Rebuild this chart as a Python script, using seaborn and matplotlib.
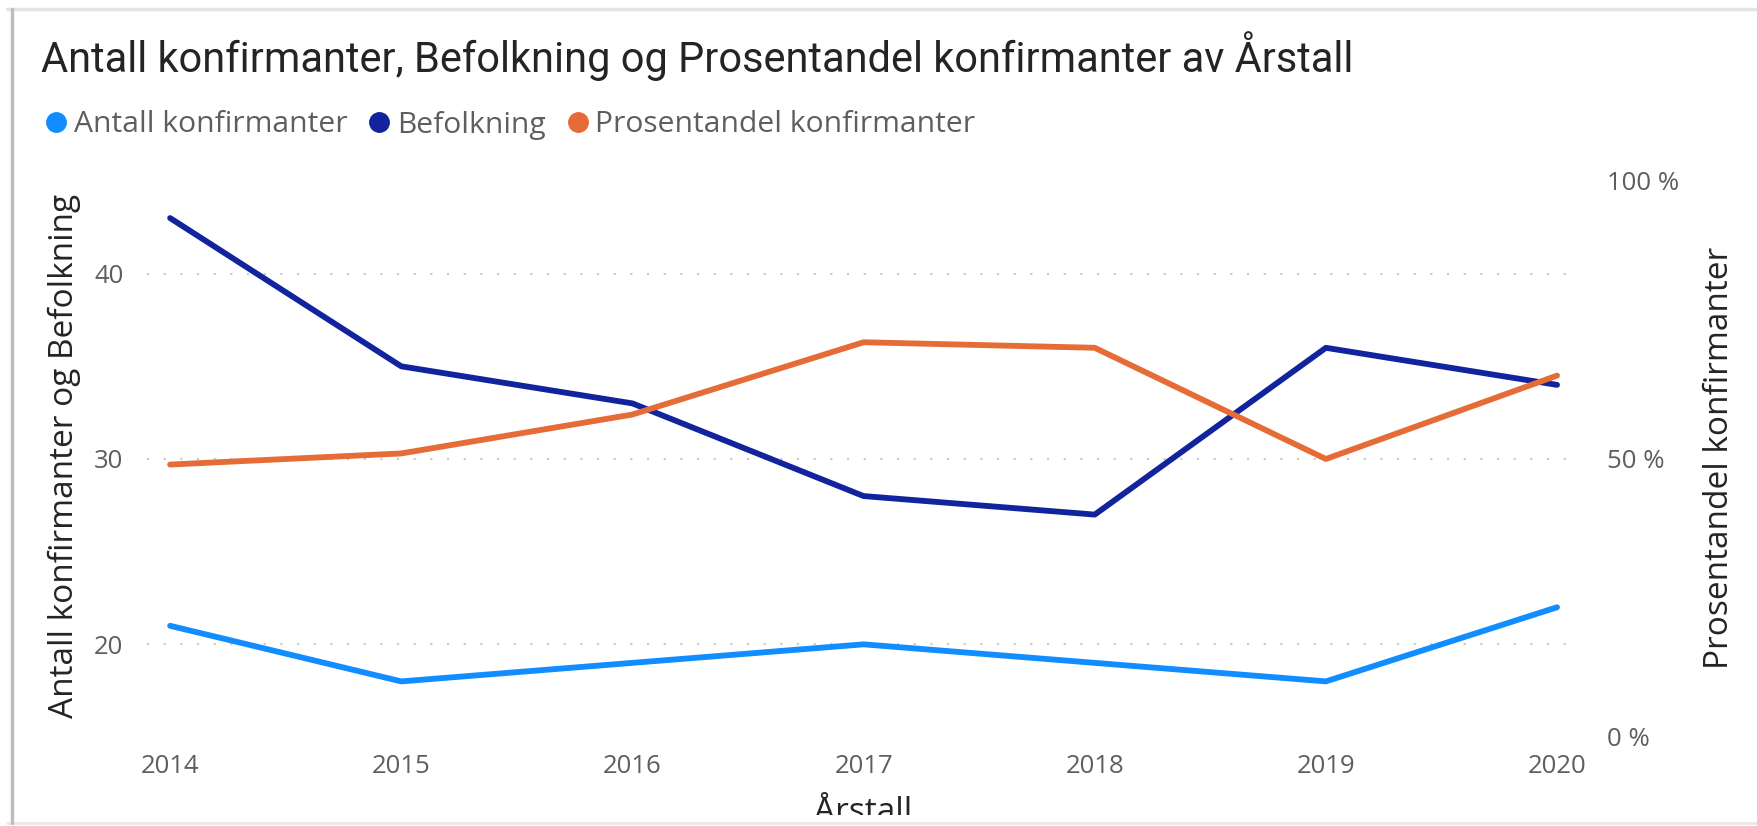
import pandas as pd
import matplotlib.pyplot as plt
import seaborn as sns
from matplotlib.lines import Line2D
from matplotlib.patches import Rectangle

# data
years = [2014, 2015, 2016, 2017, 2018, 2019, 2020]
antall = [21, 18, 19, 20, 19, 18, 22]
befolkning = [43, 35, 33, 28, 27, 36, 34]
prosent = [0.49, 0.51, 0.58, 0.71, 0.70, 0.50, 0.65]

left_ticks = [20, 30, 40]
right_ticks = [0, 0.5, 1.0]
right_labels = ['0 %', '50 %', '100 %']

title = 'Antall konfirmanter, Befolkning og Prosentandel konfirmanter av Årstall'
series = ['Antall konfirmanter', 'Befolkning', 'Prosentandel konfirmanter']
colors = ['#118DFF', '#12239E', '#E66C37']

df = pd.DataFrame({
    'Årstall': years,
    'Antall konfirmanter': antall,
    'Befolkning': befolkning,
    'Prosentandel konfirmanter': prosent,
})

sns.set_style('white')
plt.rcParams['font.family'] = ['Open Sans', 'DejaVu Sans']

W, H = 1757, 826
fig = plt.figure(figsize=(W / 100, H / 100), dpi=100)
ax = fig.add_axes([147 / W, 1 - 737 / H, (1579 - 147) / W, (737 - 181) / H])
ax2 = ax.twinx()

# left axis series
sns.lineplot(data=df, x='Årstall', y='Antall konfirmanter', ax=ax,
             color=colors[0], linewidth=4.2, solid_capstyle='round')
sns.lineplot(data=df, x='Årstall', y='Befolkning', ax=ax,
             color=colors[1], linewidth=4.2, solid_capstyle='round')
# right axis series
sns.lineplot(data=df, x='Årstall', y='Prosentandel konfirmanter', ax=ax2,
             color=colors[2], linewidth=4.2, solid_capstyle='round')

ax.set_xlim(2013.90, 2020.095)
ax.set_ylim(15, 45)
ax2.set_ylim(0, 1)

ax.set_xticks(years)
ax.set_xticklabels([str(y) for y in years])
ax.set_yticks(left_ticks)
ax2.set_yticks(right_ticks)
ax2.set_yticklabels(right_labels)

ax.set_xlabel('')
ax.set_ylabel('')
ax2.set_ylabel('')

for a in (ax, ax2):
    for s in a.spines.values():
        s.set_visible(False)
    a.set_facecolor('none')

ax.grid(axis='y', color='#C8C8C8', linestyle=(0, (1, 7)), linewidth=1.5)
ax.grid(axis='x', visible=False)
ax2.grid(False)

tick_color = '#605E5C'
ax.tick_params(axis='y', length=0, pad=17, labelsize=18.5, labelcolor=tick_color)
ax.tick_params(axis='x', length=0, pad=12, labelsize=18.5, labelcolor=tick_color)
ax2.tick_params(axis='y', length=0, pad=20, labelsize=18.5, labelcolor=tick_color)

# titles and axis labels
fig.text(41 / W, 1 - 56 / H, title, ha='left', va='center', fontsize=29.9,
         color='#252423', family=['Roboto', 'DejaVu Sans'])
fig.text(64 / W, 1 - 456 / H, 'Antall konfirmanter og Befolkning', rotation=90,
         ha='center', va='center', fontsize=24, color='#252423')
fig.text(1720 / W, 1 - 458 / H, 'Prosentandel konfirmanter', rotation=90,
         ha='center', va='center', fontsize=24, color='#252423')
fig.text(863 / W, 1 - 796 / H, 'Årstall', ha='center', va='top', fontsize=24,
         color='#252423', zorder=1)

# legend
handles = [Line2D([], [], linestyle='none', marker='o', markersize=14,
                  markerfacecolor=c, markeredgecolor=c) for c in colors]
fig.legend(handles, series, loc='center left',
           bbox_to_anchor=(45 / W, 1 - 125 / H), ncol=3, frameon=False,
           handlelength=0.75, handletextpad=0.2, columnspacing=0.7,
           borderpad=0, borderaxespad=0, labelcolor=tick_color,
           prop={'family': 'Open Sans', 'size': 21.6})

# card frame, clipping the bottom of the x label
fig.add_artist(Rectangle((0, 0), 1, 1 - 815 / H, transform=fig.transFigure,
                         facecolor='white', edgecolor='none', zorder=5))
fig.add_artist(Line2D([7 / W, 1], [1 - 9 / H, 1 - 9 / H], transform=fig.transFigure,
                      color='#E4E4E4', linewidth=2.5, zorder=6))
fig.add_artist(Line2D([7 / W, 1], [1 - 823 / H, 1 - 823 / H], transform=fig.transFigure,
                      color='#E8E8E8', linewidth=2, zorder=6))
fig.add_artist(Line2D([12 / W, 12 / W], [1 - 823 / H, 1 - 9 / H], transform=fig.transFigure,
                      color='#BDBDBD', linewidth=2.5, zorder=6))

fig.savefig('out.png', dpi=100)
